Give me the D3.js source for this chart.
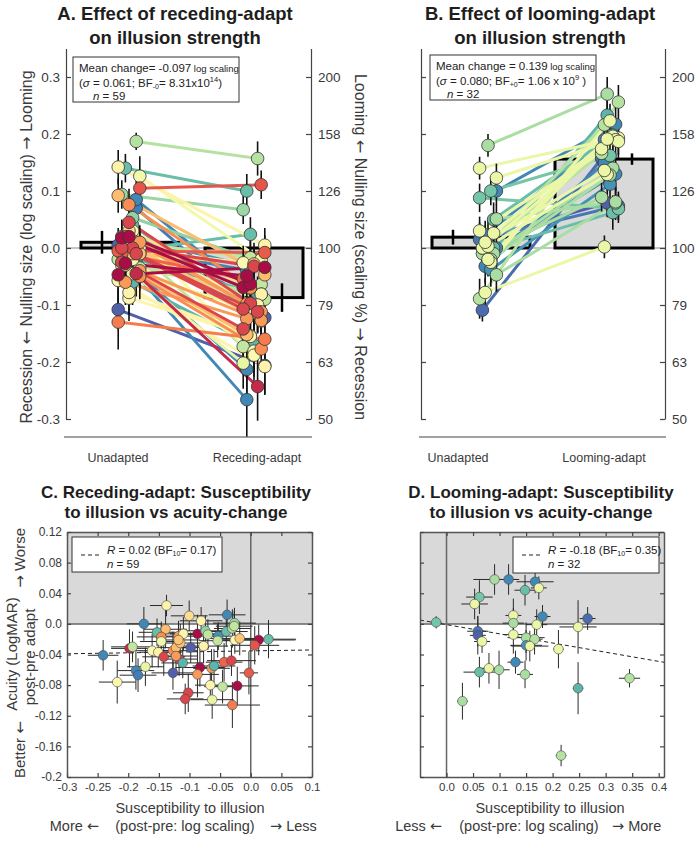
<!DOCTYPE html>
<html><head><meta charset="utf-8">
<script src="https://cdn.jsdelivr.net/npm/d3@7"></script>
<style>body{margin:0;background:#fff}svg{display:block}</style>
</head><body><svg id="chart" width="697" height="862"></svg>
<script>
// ---------------- DATA ----------------
const titleA = ["A. Effect of receding-adapt", "on illusion strength"];
const titleB = ["B. Effect of looming-adapt", "on illusion strength"];
const titleC = ["C. Receding-adapt: Susceptibility", "to illusion vs acuity-change"];
const titleD = ["D. Looming-adapt: Susceptibility", "to illusion vs acuity-change"];

const topTicks = [-0.3, -0.2, -0.1, 0, 0.1, 0.2, 0.3];
const rightTickLabels = ["50", "63", "79", "100", "126", "158", "200"];
const catsA = ["Unadapted", "Receding-adapt"];
const catsB = ["Unadapted", "Looming-adapt"];
const barMeansA = [0.010, -0.087];
const barErrA = [0.020, 0.025];
const barMeansB = [0.019, 0.156];
const barErrB = [0.013, 0.010];
const statsA = {mean: "-0.097", sd: "0.061", bfSub: "-0", bf: "8.31x10", bfExp: "14", n: 59};
const statsB = {mean: "0.139", sd: "0.080", bfSub: "+0", bf: "1.06 x 10", bfExp: "9", n: 32};

// receding-adapt subjects (panel A & C); colour position on Spectral scale
const recColorT = [0.47,0.40,0.47,0.90,0.90,0.72,0.80,0.33,0.25,0.55, 0.27,0.47,0.02,0.74,0.66,0.88,0.66,0.80,0.68,0.50, 0.35,0.02,0.80,0.15,0.90,0.07,0.66,0.50,0.47,0.12, 0.25,0.33,0.35,0.12,0.82,0.97,0.47,0.27,0.90,0.92, 0.58,0.50,0.97,0.02,0.27,0.27,0.82,0.18,0.12,0.16, 0.48,0.66,0.02,0.12,0.12,0.58,0.22,0.66,0.35];
const recUnadapted = [0.142,0.030,0.000,0.000,0.085,0.094,0.040,0.092,0.076,0.126, 0.020,0.010,0.018,0.053,-0.020,0.020,-0.010,0.140,0.187,0.000, -0.010,-0.047,-0.005,0.105,-0.025,-0.045,0.020,-0.020,-0.057,0.045, -0.050,-0.030,0.000,-0.025,-0.060,-0.108,-0.078,0.010,-0.025,0.070, -0.030,0.030,0.005,0.020,-0.040,-0.060,-0.020,-0.010,0.000,-0.005, -0.088,-0.035,-0.027,-0.010,0.000,-0.045,-0.130,0.010,-0.010];
const recAdapted = [0.005,-0.070,-0.081,-0.039,-0.090,0.067,-0.113,-0.047,-0.070,-0.020, -0.098,-0.100,-0.069,-0.021,-0.090,-0.033,-0.064,0.100,0.157,-0.026, -0.028,-0.034,0.024,0.111,-0.266,-0.243,-0.173,-0.181,-0.208,-0.097, -0.177,-0.152,-0.115,-0.142,-0.171,-0.206,-0.155,-0.112,-0.213,-0.114, -0.202,-0.188,-0.122,-0.063,-0.127,-0.124,-0.080,-0.054,-0.032,-0.008, -0.154,-0.081,-0.049,-0.112,-0.107,-0.108,-0.160,-0.017,-0.128];
const recErrUn = [0.030,0.025,0.030,0.028,0.035,0.025,0.030,0.030,0.028,0.035, 0.030,0.028,0.030,0.025,0.032,0.030,0.035,0.025,0.015,0.030, 0.028,0.035,0.030,0.025,0.035,0.040,0.030,0.035,0.040,0.028, 0.040,0.035,0.030,0.035,0.040,0.035,0.038,0.030,0.035,0.030, 0.035,0.030,0.030,0.028,0.035,0.040,0.030,0.030,0.028,0.030, 0.040,0.035,0.030,0.030,0.030,0.035,0.048,0.028,0.032];
const recErrAd = [0.030,0.030,0.035,0.030,0.035,0.025,0.035,0.030,0.030,0.030, 0.035,0.035,0.030,0.030,0.035,0.030,0.035,0.030,0.030,0.030, 0.030,0.030,0.030,0.025,0.065,0.060,0.040,0.045,0.050,0.030, 0.040,0.040,0.035,0.040,0.045,0.050,0.040,0.035,0.055,0.035, 0.045,0.045,0.035,0.030,0.035,0.035,0.030,0.030,0.028,0.030, 0.040,0.030,0.030,0.035,0.035,0.035,0.040,0.030,0.035];
const recSuscept = [-0.1375,-0.1005,-0.081,-0.0386,-0.1745,-0.0266,-0.153,-0.139,-0.146,-0.146, -0.118,-0.110,-0.087,-0.074,-0.070,-0.053,-0.054,-0.040,-0.030,-0.026, -0.018,0.013,0.029,0.0065,-0.241,-0.198,-0.193,-0.161,-0.151,-0.142, -0.127,-0.122,-0.115,-0.117,-0.111,-0.098,-0.077,-0.122,-0.1875,-0.184, -0.172,-0.218,-0.127,-0.083,-0.087,-0.064,-0.060,-0.0435,-0.0315,-0.003, -0.066,-0.046,-0.022,-0.102,-0.107,-0.063,-0.030,-0.027,-0.118];
const recAcuity = [0.024,0.0105,0.004,0.0118,0.000,0.001,-0.011,-0.007,-0.017,-0.023, -0.016,-0.013,-0.013,-0.009,-0.014,-0.016,-0.022,-0.010,-0.006,-0.021, -0.019,-0.021,-0.020,-0.028,-0.041,-0.032,-0.030,-0.035,-0.037,-0.043, -0.035,-0.031,-0.025,-0.046,-0.051,-0.031,-0.029,-0.042,-0.061,-0.067, -0.056,-0.076,-0.064,-0.057,-0.066,-0.058,-0.055,-0.050,-0.048,-0.064, -0.080,-0.082,-0.081,-0.090,-0.098,-0.099,-0.106,-0.003,-0.021];
const recSusErr = [0.027,0.030,0.035,0.030,0.028,0.035,0.030,0.035,0.040,0.035, 0.030,0.035,0.045,0.030,0.035,0.040,0.030,0.035,0.030,0.035, 0.050,0.060,0.045,0.040,0.025,0.030,0.035,0.030,0.030,0.035, 0.040,0.030,0.035,0.030,0.035,0.030,0.040,0.035,0.030,0.030, 0.030,0.030,0.035,0.040,0.035,0.030,0.035,0.030,0.040,0.015, 0.025,0.030,0.035,0.025,0.030,0.035,0.045,0.030,0.035];
const recAcuErr = [0.014,0.020,0.018,0.020,0.022,0.020,0.018,0.025,0.020,0.022, 0.020,0.022,0.025,0.020,0.020,0.018,0.022,0.020,0.025,0.018, 0.022,0.020,0.025,0.025,0.020,0.025,0.020,0.022,0.020,0.025, 0.025,0.020,0.025,0.022,0.020,0.020,0.022,0.025,0.025,0.022, 0.025,0.028,0.022,0.025,0.030,0.025,0.022,0.025,0.020,0.028, 0.020,0.022,0.025,0.025,0.020,0.025,0.030,0.020,0.022];

// looming-adapt subjects (panel B & D)
const loomColorT = [0.78,0.70,0.90,0.90,0.80,0.57,0.78,0.57,0.57,0.70, 0.90,0.57,0.95,0.57,0.93,0.97,0.57,0.57,0.70,0.68, 0.88,0.57,0.57,0.90,0.57,0.80,0.70,0.70,0.68,0.82, 0.70,0.68];
const loomUnadapted = [0.088,0.180,0.100,0.023,0.050,0.000,0.100,0.140,0.003,-0.047, -0.032,0.026,-0.109,-0.025,0.015,0.020,0.123,0.010,-0.010,0.000, -0.038,0.030,-0.020,0.000,-0.078,0.000,-0.010,-0.020,-0.089,-0.015, 0.051,0.000];
const loomAdapted = [0.069,0.270,0.217,0.190,0.198,0.174,0.162,0.193,0.129,0.079, 0.149,0.196,0.157,0.223,0.074,0.079,0.190,0.136,0.140,0.166, 0.112,0.187,0.191,0.130,0.002,0.062,0.089,0.128,0.256,0.233, 0.081,0.216];
const loomErrUn = [0.025,0.020,0.025,0.025,0.030,0.030,0.025,0.020,0.030,0.030, 0.030,0.025,0.020,0.035,0.030,0.030,0.025,0.030,0.030,0.030, 0.030,0.025,0.030,0.030,0.025,0.030,0.030,0.030,0.035,0.030, 0.025,0.030];
const loomErrAd = [0.025,0.030,0.030,0.025,0.030,0.025,0.030,0.030,0.025,0.030, 0.025,0.030,0.025,0.030,0.025,0.025,0.030,0.025,0.030,0.025, 0.030,0.030,0.025,0.030,0.020,0.030,0.025,0.025,0.030,0.030, 0.025,0.025];
const loomSuscept = [-0.0195,0.0906,0.117,0.167,0.148,0.174,0.062,0.053,0.126,0.126, 0.181,0.170,0.266,0.248,0.059,0.059,0.067,0.126,0.150,0.166, 0.150,0.157,0.211,0.130,0.080,0.062,0.099,0.148,0.345,0.248, 0.030,0.216];
const loomAcuity = [0.002,0.058,0.058,0.055,0.044,0.047,0.035,0.026,0.011,0.001, 0.0096,-0.001,0.007,-0.004,-0.0096,-0.015,-0.023,-0.014,-0.018,-0.020, -0.028,-0.029,-0.033,-0.050,-0.058,-0.063,-0.060,-0.066,-0.071,-0.084, -0.101,-0.172];
const loomSusErr = [0.010,0.040,0.020,0.035,0.020,0.015,0.025,0.025,0.015,0.020, 0.015,0.020,0.015,0.035,0.020,0.015,0.015,0.020,0.035,0.015, 0.030,0.035,0.010,0.015,0.020,0.030,0.020,0.015,0.020,0.010, 0.010,0.010];
const loomAcuErr = [0.008,0.020,0.020,0.015,0.020,0.015,0.022,0.020,0.022,0.020, 0.015,0.020,0.015,0.035,0.020,0.025,0.015,0.025,0.020,0.020, 0.020,0.020,0.025,0.015,0.020,0.020,0.025,0.018,0.012,0.034, 0.024,0.014];

const cdYTicks = [0.12,0.08,0.04,0,-0.04,-0.08,-0.12,-0.16,-0.2];
const cdYLabels = ["0.12","0.08","0.04","0.0","-0.04","-0.08","-0.12","-0.16","-0.2"];
const cXTicks = [-0.3,-0.25,-0.2,-0.15,-0.1,-0.05,0,0.05,0.1];
const cXLabels = ["-0.3","-0.25","-0.2","-0.15","-0.1","-0.05","0.0","0.05","0.1"];
const dXTicks = [0,0.05,0.1,0.15,0.2,0.25,0.3,0.35,0.4];
const dXLabels = ["0.0","0.05","0.1","0.15","0.2","0.25","0.3","0.35","0.4"];
const fitC = [-0.0353, 0.0125];   // intercept, slope
const fitD = [-0.001, -0.12];
const statsC = {r: "0.02", bf: "0.17", n: 59};
const statsD = {r: "-0.18", bf: "0.35", n: 32};

// ---------------- DRAW ----------------
const FONT = '"Liberation Sans", Arial, Helvetica, sans-serif';
const ARROWFONT = '"DejaVu Sans", sans-serif';
const TXT = "#3a3a3a";
const svg = d3.select("#chart").attr("font-family", FONT);
const spec = d3.interpolateSpectral;

// text with arrows rendered in a font with full-size arrow glyphs
function richText(sel, str) {
  str.split(/([←→])/).filter(s => s.length).forEach(part => {
    const ts = sel.append("tspan").text(part);
    if (part === "←" || part === "→") ts.attr("font-family", ARROWFONT);
  });
  return sel;
}
function drawTitle(lines, cx, y1, y2, size) {
  lines.forEach((s, i) => svg.append("text").attr("x", cx).attr("y", i ? y2 : y1)
    .attr("text-anchor", "middle").attr("font-weight", "bold").attr("font-size", size)
    .attr("fill", "#1e1e1e").text(s));
}
function styleAxis(sel, fs) {
  sel.select(".domain").attr("stroke", "#444").attr("stroke-width", 1.2);
  sel.selectAll(".tick line").attr("stroke", "#444").attr("stroke-width", 1.2);
  sel.selectAll(".tick text").attr("font-size", fs).attr("fill", TXT).attr("font-family", FONT);
}

const yTop = d3.scaleLinear().domain([-0.3, 0.35]).range([419, 48.5]);

function drawTop(p) {
  const y = yTop, L = p.left, R = p.right;
  const x = d3.scalePoint().domain(p.cats).range(p.catX);
  const root = svg.append("g");
  root.append("line").attr("x1", L).attr("x2", R).attr("y1", y(0)).attr("y2", y(0))
    .attr("stroke", "#8a8a8a").attr("stroke-width", 1);
  p.cats.forEach((c, i) => {
    const cx = x(c), v = p.barMeans[i];
    root.append("rect").attr("x", cx - 49).attr("width", 98)
      .attr("y", Math.min(y(v), y(0))).attr("height", Math.abs(y(v) - y(0)))
      .attr("fill", "#d9d9d9").attr("stroke", "#000").attr("stroke-width", 3);
  });
  const n = p.un.length;
  const order = d3.range(n).sort((a, b) => p.t[b] - p.t[a]);
  const jit = i => (((i * 3) % 7) - 3) * p.jit;
  const xu = i => x(p.cats[0]) + p.off0 + jit(i);
  const xa = i => x(p.cats[1]) + p.off1 + jit(i + 2);
  order.forEach(i => root.append("line").attr("x1", xu(i)).attr("y1", y(p.un[i]))
    .attr("x2", xa(i)).attr("y2", y(p.ad[i])).attr("stroke", spec(p.t[i])).attr("stroke-width", 3));
  order.forEach(i => {
    root.append("line").attr("x1", xu(i)).attr("x2", xu(i)).attr("y1", y(p.un[i] - p.eu[i])).attr("y2", y(p.un[i] + p.eu[i])).attr("stroke", "#111").attr("stroke-width", 1.6);
    root.append("line").attr("x1", xa(i)).attr("x2", xa(i)).attr("y1", y(p.ad[i] - p.ea[i])).attr("y2", y(p.ad[i] + p.ea[i])).attr("stroke", "#111").attr("stroke-width", 1.6);
  });
  p.cats.forEach((c, i) => {
    const ex = x(c) + p.errOff[i], v = p.barMeans[i];
    root.append("line").attr("x1", ex).attr("x2", ex).attr("y1", y(v - p.barErr[i])).attr("y2", y(v + p.barErr[i]))
      .attr("stroke", "#000").attr("stroke-width", 2.5);
  });
  order.forEach(i => {
    root.append("circle").attr("cx", xu(i)).attr("cy", y(p.un[i])).attr("r", 6.3)
      .attr("fill", spec(p.t[i])).attr("stroke", "#333").attr("stroke-width", 0.8);
  });
  order.forEach(i => {
    root.append("circle").attr("cx", xa(i)).attr("cy", y(p.ad[i])).attr("r", 6.3)
      .attr("fill", spec(p.t[i])).attr("stroke", "#333").attr("stroke-width", 0.8);
  });
  // axes
  const axL = d3.axisLeft(y).tickValues(topTicks).tickSize(-5).tickSizeOuter(0).tickPadding(6)
    .tickFormat(d => p.leftLabels ? d.toFixed(1) : "");
  root.append("g").attr("transform", `translate(${L},0)`).call(axL).call(s => styleAxis(s, 13.5));
  const axR = d3.axisRight(y).tickValues(topTicks).tickSize(-5).tickSizeOuter(0).tickPadding(7)
    .tickFormat((d, i) => rightTickLabels[i]);
  root.append("g").attr("transform", `translate(${R},0)`).call(axR).call(s => styleAxis(s, 13.5));
  root.append("line").attr("x1", L - 2).attr("x2", R + 1).attr("y1", 437).attr("y2", 437)
    .attr("stroke", "#444").attr("stroke-width", 1.2);
  p.cats.forEach((c, i) => root.append("text").attr("x", p.labelX[i]).attr("y", 462)
    .attr("text-anchor", "middle").attr("font-size", 12.5).attr("fill", TXT).text(c));
  // stats box
  const s = p.stats, bx = p.box;
  root.append("rect").attr("x", bx[0]).attr("y", bx[1]).attr("width", bx[2]).attr("height", bx[3])
    .attr("fill", "#fff").attr("stroke", "#333").attr("stroke-width", 1);
  const t1 = root.append("text").attr("x", bx[0] + 6).attr("y", bx[1] + 15).attr("font-size", 11.5).attr("fill", "#222");
  t1.append("tspan").text(p.meanLabel + s.mean);
  t1.append("tspan").attr("font-size", 9.5).text(" log scaling");
  const t2 = root.append("text").attr("x", bx[0] + 6).attr("y", bx[1] + 29.5).attr("font-size", 11.5).attr("fill", "#222");
  t2.append("tspan").text("(");
  t2.append("tspan").attr("font-style", "italic").text("σ");
  t2.append("tspan").text(" = " + s.sd + "; BF");
  t2.append("tspan").attr("font-size", 7).attr("dy", 2).text(s.bfSub);
  t2.append("tspan").attr("dy", -2).text("= " + s.bf);
  t2.append("tspan").attr("font-size", 7.5).attr("dy", -5).text(s.bfExp);
  t2.append("tspan").attr("dy", 5).text(p.close);
  const t3 = root.append("text").attr("x", bx[0] + p.nIndent).attr("y", bx[1] + 42.5).attr("font-size", 11.5).attr("fill", "#222");
  t3.append("tspan").attr("font-style", "italic").text("n");
  t3.append("tspan").text(" = " + s.n);
}

drawTitle(titleA, 175, 20, 44, 18.5);
drawTitle(titleB, 540, 20, 44, 18.5);
drawTop({left: 66, right: 311, cats: catsA, catX: [130, 254], labelX: [118, 257],
  barMeans: barMeansA, barErr: barErrA, errOff: [-28, 28], un: recUnadapted, ad: recAdapted,
  eu: recErrUn, ea: recErrAd, t: recColorT, jit: 3.6, off0: -1, off1: 0, leftLabels: true,
  stats: statsA, box: [73, 57, 166, 45], meanLabel: "Mean change= ", close: ")", nIndent: 20});
drawTop({left: 421, right: 665, cats: catsB, catX: [481, 604], labelX: [458, 604],
  barMeans: barMeansB, barErr: barErrB, errOff: [-28, 28], un: loomUnadapted, ad: loomAdapted,
  eu: loomErrUn, ea: loomErrAd, t: loomColorT, jit: 2.8, off0: 7, off1: 6, leftLabels: false,
  stats: statsB, box: [430, 55, 166, 45], meanLabel: "Mean change = ", close: " )", nIndent: 17});

// axis titles top
richText(svg.append("text").attr("transform", "translate(32,247) rotate(-90)").attr("text-anchor", "middle")
  .attr("font-size", 16).attr("fill", TXT), "Recession ← Nulling size (log scaling) → Looming");
richText(svg.append("text").attr("transform", "translate(355,247) rotate(90)").attr("text-anchor", "middle")
  .attr("font-size", 16).attr("fill", TXT), "Looming ← Nulling size (scaling %) → Recession");

// scatter panels
function drawScatter(p) {
  const x = d3.scaleLinear().domain(p.xDomain).range([p.left, p.right]);
  const y = d3.scaleLinear().domain([-0.2, 0.12]).range([777, 532]);
  const root = svg.append("g");
  root.append("rect").attr("x", p.left).attr("y", y(0.12)).attr("width", p.right - p.left)
    .attr("height", y(0) - y(0.12)).attr("fill", "#d9d9d9");
  root.append("line").attr("x1", p.left).attr("x2", p.right).attr("y1", y(0)).attr("y2", y(0))
    .attr("stroke", "#666").attr("stroke-width", 1.5);
  root.append("line").attr("x1", x(0)).attr("x2", x(0)).attr("y1", y(0.12)).attr("y2", y(-0.2))
    .attr("stroke", "#666").attr("stroke-width", 1.5);
  const f = p.fit, x0 = p.xDomain[0], x1 = p.xDomain[1];
  root.append("line").attr("x1", x(x0)).attr("y1", y(f[0] + f[1] * x0)).attr("x2", x(x1)).attr("y2", y(f[0] + f[1] * x1))
    .attr("stroke", "#222").attr("stroke-width", 1).attr("stroke-dasharray", "4,3");
  const n = p.xs.length;
  for (let i = 0; i < n; i++) {
    root.append("line").attr("x1", x(p.xs[i] - p.xe[i])).attr("x2", x(p.xs[i] + p.xe[i]))
      .attr("y1", y(p.ys[i])).attr("y2", y(p.ys[i])).attr("stroke", "#2a2a2a").attr("stroke-width", 1);
    root.append("line").attr("x1", x(p.xs[i])).attr("x2", x(p.xs[i]))
      .attr("y1", y(p.ys[i] - p.ye[i])).attr("y2", y(p.ys[i] + p.ye[i])).attr("stroke", "#2a2a2a").attr("stroke-width", 1);
  }
  for (let i = 0; i < n; i++) {
    root.append("circle").attr("cx", x(p.xs[i])).attr("cy", y(p.ys[i])).attr("r", 4.8)
      .attr("fill", spec(p.t[i])).attr("stroke", "#444").attr("stroke-width", 0.6);
  }
  const axB = d3.axisBottom(x).tickValues(p.xTicks).tickFormat((d, i) => p.xLabels[i]).tickSize(-4).tickSizeOuter(0).tickPadding(6);
  root.append("g").attr("transform", "translate(0,777)").call(axB).call(s => styleAxis(s, 11.5));
  const axT = d3.axisTop(x).tickValues(p.xTicks).tickFormat("").tickSize(-4).tickSizeOuter(0);
  root.append("g").attr("transform", "translate(0,532)").call(axT).call(s => styleAxis(s, 11));
  const axL = d3.axisLeft(y).tickValues(cdYTicks).tickFormat((d, i) => p.yLabels ? cdYLabels[i] : "").tickSize(-4).tickSizeOuter(0).tickPadding(5);
  root.append("g").attr("transform", `translate(${p.left},0)`).call(axL).call(s => styleAxis(s, 12));
  const axR = d3.axisRight(y).tickValues(cdYTicks).tickFormat("").tickSize(-4).tickSizeOuter(0);
  root.append("g").attr("transform", `translate(${p.right},0)`).call(axR).call(s => styleAxis(s, 12));
  root.selectAll(".domain").attr("stroke", "#555").attr("stroke-width", 1.5);
  // legend
  const b = p.leg;
  root.append("rect").attr("x", b[0]).attr("y", b[1]).attr("width", b[2]).attr("height", b[3])
    .attr("fill", "#fff").attr("stroke", "#333").attr("stroke-width", 1);
  root.append("line").attr("x1", b[0] + 9).attr("x2", b[0] + 30).attr("y1", b[1] + 18).attr("y2", b[1] + 18)
    .attr("stroke", "#222").attr("stroke-width", 1).attr("stroke-dasharray", "4,3");
  const t1 = root.append("text").attr("x", b[0] + 35).attr("y", b[1] + 17).attr("font-size", 11.5).attr("fill", "#222");
  t1.append("tspan").attr("font-style", "italic").text("R");
  t1.append("tspan").text(" = " + p.stats.r + " (BF");
  t1.append("tspan").attr("font-size", 7).attr("dy", 2).text("10");
  t1.append("tspan").attr("dy", -2).text("= " + p.stats.bf + ")");
  const t2 = root.append("text").attr("x", b[0] + 35).attr("y", b[1] + 31).attr("font-size", 11.5).attr("fill", "#222");
  t2.append("tspan").attr("font-style", "italic").text("n");
  t2.append("tspan").text(" = " + p.stats.n);
  // x labels
  root.append("text").attr("x", p.xlabC1).attr("y", 813).attr("text-anchor", "middle").attr("font-size", 14.5).attr("fill", TXT).text("Susceptibility to illusion");
  root.append("text").attr("x", p.xlabC2).attr("y", 831).attr("text-anchor", "middle").attr("font-size", 14.5).attr("fill", TXT).text("(post-pre: log scaling)");
  richText(root.append("text").attr("x", p.arrowL).attr("y", 831).attr("text-anchor", "end").attr("font-size", 14.5).attr("fill", TXT), p.leftWord + " ←");
  richText(root.append("text").attr("x", p.arrowR).attr("y", 831).attr("text-anchor", "start").attr("font-size", 14.5).attr("fill", TXT), "→ " + p.rightWord);
}

drawTitle(titleC, 176, 498, 518, 17);
drawTitle(titleD, 541, 498, 518, 17);
drawScatter({xDomain: [-0.3, 0.1], left: 67, right: 312, xs: recSuscept, ys: recAcuity, xe: recSusErr, ye: recAcuErr,
  t: recColorT, fit: fitC, xTicks: cXTicks, xLabels: cXLabels, yLabels: true, leg: [72, 537, 150, 35], stats: statsC,
  xlabC1: 190, xlabC2: 185, arrowL: 99, arrowR: 270, leftWord: "More", rightWord: "Less"});
drawScatter({xDomain: [-0.05, 0.41], left: 420, right: 664, xs: loomSuscept, ys: loomAcuity, xe: loomSusErr, ye: loomAcuErr,
  t: loomColorT, fit: fitD, xTicks: dXTicks, xLabels: dXLabels, yLabels: false, leg: [513, 537, 146, 36], stats: statsD,
  xlabC1: 550, xlabC2: 529, arrowL: 442, arrowR: 612, leftWord: "Less", rightWord: "More"});

// C y-axis labels
svg.append("text").attr("transform", "translate(17,654) rotate(-90)").attr("text-anchor", "middle").attr("font-size", 15).attr("fill", TXT).text("Acuity (LogMAR)");
svg.append("text").attr("transform", "translate(35,657) rotate(-90)").attr("text-anchor", "middle").attr("font-size", 15).attr("fill", TXT).text("post-pre adapt");
richText(svg.append("text").attr("transform", "translate(25,528) rotate(-90)").attr("text-anchor", "end").attr("font-size", 15).attr("fill", TXT), "→ Worse");
richText(svg.append("text").attr("transform", "translate(25,778) rotate(-90)").attr("text-anchor", "start").attr("font-size", 15).attr("fill", TXT), "Better ←");
</script></body></html>
